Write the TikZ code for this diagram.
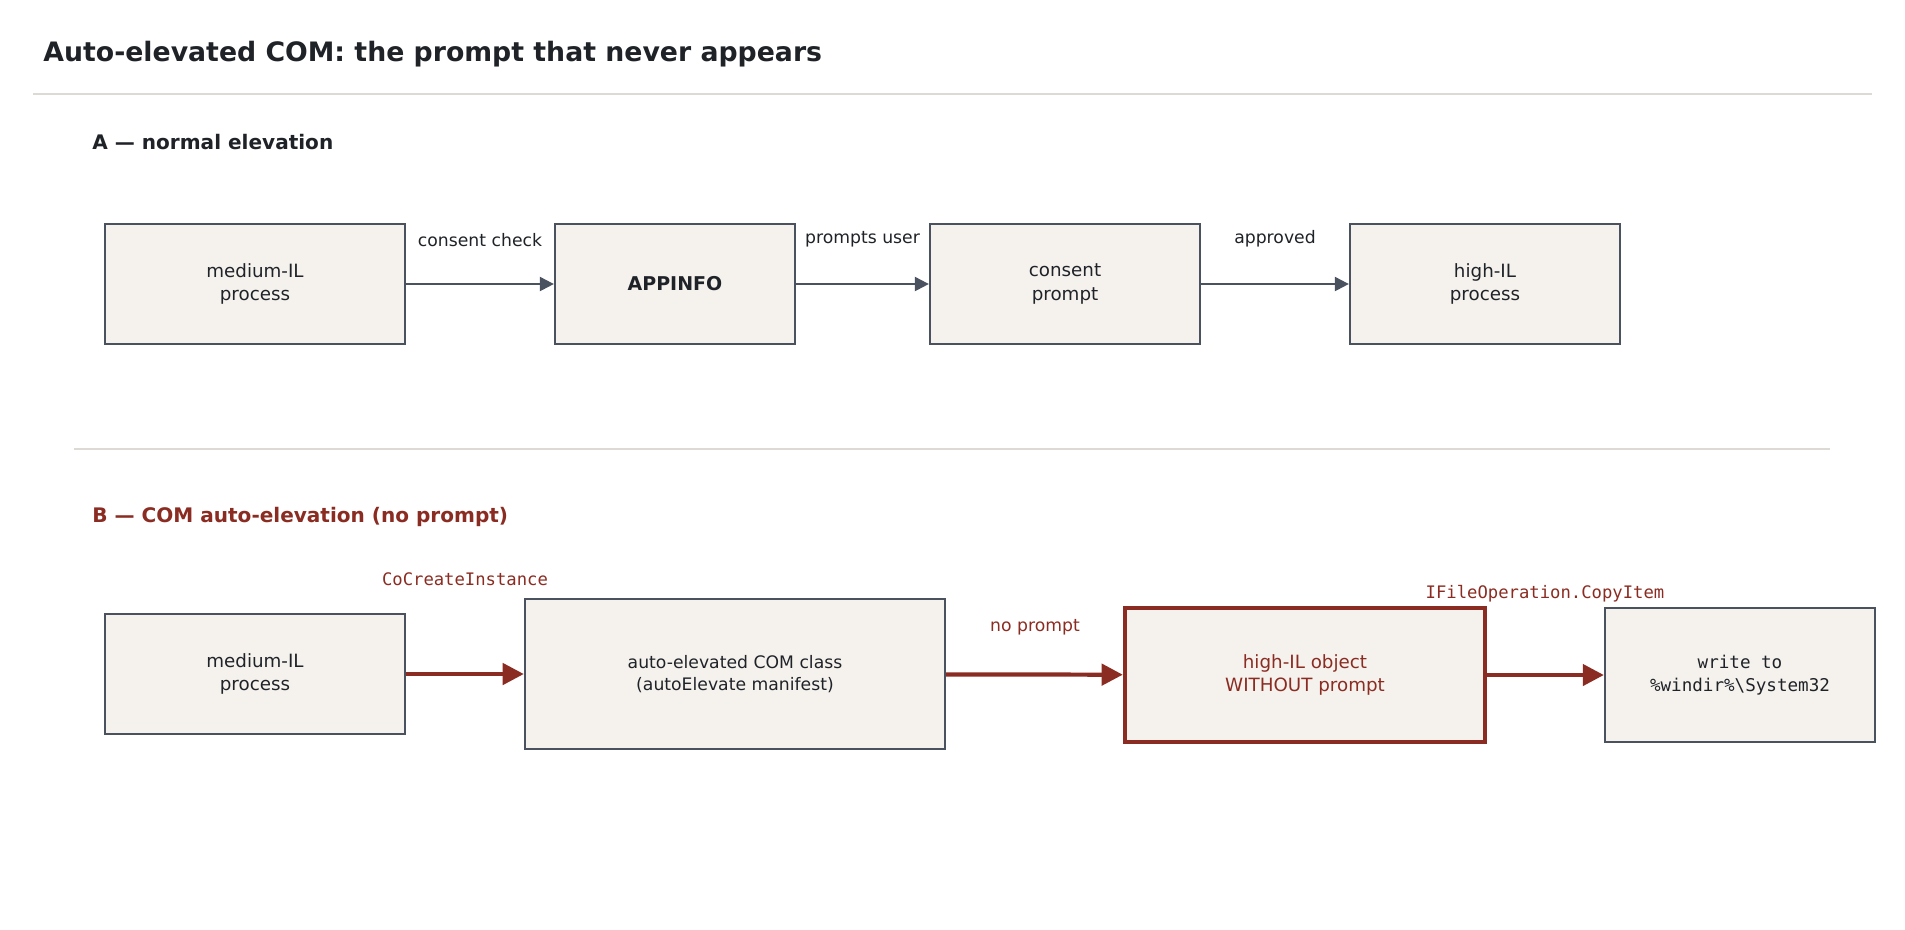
\documentclass[tikz,border=0pt]{standalone}
\usepackage{fontspec}
\setmainfont{DejaVu Sans}
\setmonofont{DejaVu Sans Mono}
\usetikzlibrary{arrows.meta}
\definecolor{boxfill}{HTML}{F5F2EE}
\definecolor{boxline}{HTML}{4A5260}
\definecolor{ink}{HTML}{1F2328}
\definecolor{alert}{HTML}{8B2C22}
\definecolor{rulegrey}{HTML}{DDDAD5}
\tikzset{%
    stage/.style = {%
        rectangle,
        fill          = boxfill,
        draw          = boxline,
        line width    = 0.6pt,
        text          = ink,
        align         = center,
        inner sep     = 0pt,
        font          = \fontsize{5.2}{6.6}\selectfont
    },
    flow/.style  = {draw = boxline, line width = 0.6pt, -{Triangle[length=4pt, width=4pt]}},
    bad/.style   = {draw = alert, line width = 1.2pt, -{Triangle[length=6pt, width=6pt]}},
    tag/.style   = {text = ink, font = \fontsize{4.9}{6}\selectfont},
    redtag/.style = {text = alert, font = \fontsize{4.9}{6}\selectfont}
}
\begin{document}
\begin{tikzpicture}[x = 0.01cm, y = -0.01cm]
    \useasboundingbox[fill = white] (0, 0) rectangle (1905, 929);

    % heading
    \node[anchor = west, text = ink, font = \bfseries\fontsize{7.6}{9}\selectfont] (title) at (31, 54) {Auto-elevated COM: the prompt that never appears};
    \draw[rulegrey, line width = 0.6pt] (33, 94) -- (1872, 94);

    % part A
    \node[anchor = west, text = ink, font = \bfseries\fontsize{5.7}{7}\selectfont] (heada) at (80, 142) {A — normal elevation};
    \node[stage, minimum width = 3cm, minimum height = 1.2cm] (amedium) at (255, 284) {medium-IL\\process};
    \node[stage, minimum width = 2.4cm, minimum height = 1.2cm, font = \bfseries\fontsize{5.4}{6.6}\selectfont] (appinfo) at (675, 284) {APPINFO};
    \node[stage, minimum width = 2.7cm, minimum height = 1.2cm] (consent) at (1065, 284) {consent\\prompt};
    \node[stage, minimum width = 2.7cm, minimum height = 1.2cm] (ahigh) at (1485, 284) {high-IL\\process};
    \draw[flow] (amedium) -- (appinfo) node[tag, midway, above = 0.24cm] (la1) {consent check};
    \draw[flow] (appinfo) -- (consent) node[tag, midway, above = 0.24cm] (la2) {prompts user};
    \draw[flow] (consent) -- (ahigh) node[tag, midway, above = 0.24cm] (la3) {approved};

    \draw[rulegrey, line width = 0.6pt] (74, 449) -- (1830, 449);

    % part B
    \node[anchor = west, text = alert, font = \bfseries\fontsize{5.7}{7}\selectfont] (headb) at (80, 517) {B — COM auto-elevation (no prompt)};
    \node[stage, minimum width = 3cm, minimum height = 1.2cm] (bmedium) at (255, 674) {medium-IL\\process};
    \node[stage, minimum width = 4.2cm, minimum height = 1.5cm, font = \fontsize{4.9}{6.4}\selectfont] (comclass) at (735, 674) {auto-elevated COM class\\(autoElevate manifest)};
    \node[stage, minimum width = 3.6cm, minimum height = 1.34cm, draw = alert, line width = 1.2pt, text = alert] (bhigh) at (1305, 675) {high-IL object\\WITHOUT prompt};
    \node[stage, minimum width = 2.7cm, minimum height = 1.34cm, font = \ttfamily\fontsize{5}{6.4}\selectfont] (system) at (1740, 675) {write to\\\%windir\%\textbackslash System32};
    \draw[bad] (bmedium) -- (comclass);
    \draw[bad] (comclass) -- (bhigh);
    \draw[bad] (bhigh) -- (system);
    \node[redtag, font = \ttfamily\fontsize{4.9}{6}\selectfont] (lb1) at (465, 579) {CoCreateInstance};
    \node[redtag] (lb2) at (1035, 627) {no prompt};
    \node[redtag, font = \ttfamily\fontsize{4.9}{6}\selectfont] (lb3) at (1545, 594) {IFileOperation.CopyItem};
\end{tikzpicture}
\end{document}
